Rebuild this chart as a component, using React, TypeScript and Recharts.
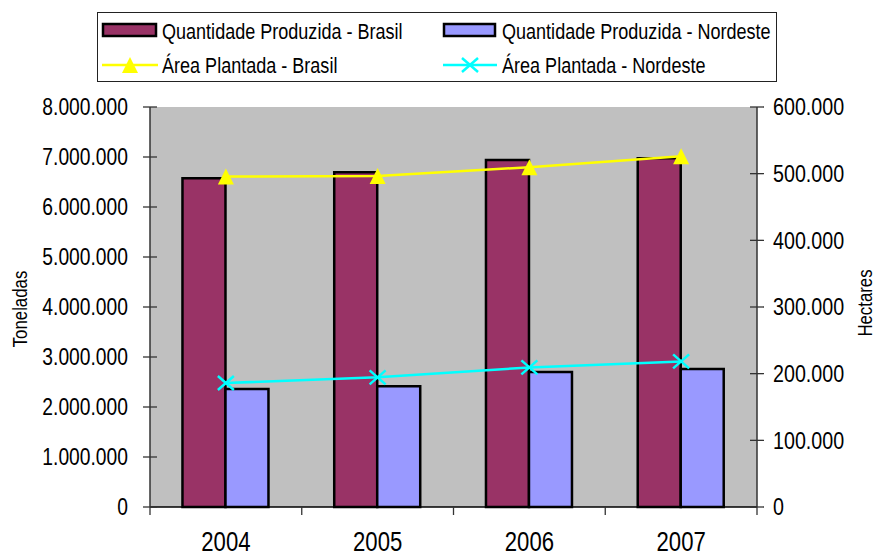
import React from 'react';
import { ComposedChart, Bar, Line, XAxis, YAxis, CartesianGrid, Label } from 'recharts';

const years = ['2004', '2005', '2006', '2007'];
const qtdBrasil = [6576000, 6696000, 6940000, 6975000];
const qtdNordeste = [2360000, 2413000, 2700000, 2760000];
const areaBrasil = [495600, 496600, 509700, 526000];
const areaNordeste = [186000, 194500, 209400, 218400];
const leftTicks = [0, 1000000, 2000000, 3000000, 4000000, 5000000, 6000000, 7000000, 8000000];
const rightTicks = [0, 100000, 200000, 300000, 400000, 500000, 600000];
const names = {
  qb: 'Quantidade Produzida - Brasil',
  qn: 'Quantidade Produzida - Nordeste',
  ab: 'Área Plantada - Brasil',
  an: 'Área Plantada - Nordeste',
};
const leftTitle = 'Toneladas';
const rightTitle = 'Hectares';

const data = years.map((y, i) => ({
  year: y,
  qb: qtdBrasil[i],
  qn: qtdNordeste[i],
  ab: areaBrasil[i],
  an: areaNordeste[i],
}));

const W = 877;
const H = 557;
const LEFT_W = 150;
const RIGHT_W = 120;
const TOP = 107;
const XAX_H = 50;
const PLOT_L = LEFT_W;
const PLOT_R = W - RIGHT_W;
const PLOT_B = H - XAX_H;
const PLOT_MID = (TOP + PLOT_B) / 2;
const HALF_BAND = (PLOT_R - PLOT_L) / years.length / 2;

const FONT = "'Liberation Sans', Arial, sans-serif";
const SQUEEZE = 0.82;
const AXIS_COLOR = '#333';

const fmt = (v: number) => String(v).replace(/\B(?=(\d{3})+(?!\d))/g, '.');

const NText = ({ x, y, size, anchor = 'start', rotate = 0, baseline = 'central', children }: any) => (
  <text
    transform={`translate(${x},${y}) rotate(${rotate}) scale(${SQUEEZE},1)`}
    x={0}
    y={0}
    textAnchor={anchor}
    dominantBaseline={baseline}
    fontSize={size}
    fill="#000"
    fontFamily={FONT}
  >
    {children}
  </text>
);

const LeftTick = (props: any) => {
  const { y, payload } = props;
  return (
    <g>
      <line x1={PLOT_L - 7} x2={PLOT_L + 7} y1={y} y2={y} stroke={AXIS_COLOR} strokeWidth={1.3} />
      <NText x={PLOT_L - 22} y={y} size={23.5} anchor="end">{fmt(payload.value)}</NText>
    </g>
  );
};

const RightTick = (props: any) => {
  const { y, payload } = props;
  return (
    <g>
      <line x1={PLOT_R - 7} x2={PLOT_R + 7} y1={y} y2={y} stroke={AXIS_COLOR} strokeWidth={1.3} />
      <NText x={PLOT_R + 16} y={y} size={24} anchor="start">{fmt(payload.value)}</NText>
    </g>
  );
};

const XTick = (props: any) => {
  const { x, payload, index } = props;
  const last = index === years.length - 1;
  return (
    <g>
      <line x1={x - HALF_BAND} x2={x - HALF_BAND} y1={PLOT_B} y2={PLOT_B + 8} stroke={AXIS_COLOR} strokeWidth={1.3} />
      {last && (
        <line x1={x + HALF_BAND} x2={x + HALF_BAND} y1={PLOT_B} y2={PLOT_B + 8} stroke={AXIS_COLOR} strokeWidth={1.3} />
      )}
      <NText x={x} y={551} size={27} anchor="middle" baseline="alphabetic">{payload.value}</NText>
    </g>
  );
};

const LeftTitle = () => <NText x={20} y={PLOT_MID + 2} size={20.5} anchor="middle" rotate={-90}>{leftTitle}</NText>;
const RightTitle = () => <NText x={865} y={PLOT_MID - 4} size={20.5} anchor="middle" rotate={-90}>{rightTitle}</NText>;

const TriangleDot = (props: any) => {
  const { cx, cy } = props;
  if (cx == null || cy == null) return null;
  return <polygon points={`${cx},${cy - 8} ${cx - 8},${cy + 8} ${cx + 8},${cy + 8}`} fill="#FFFF00" />;
};

const CrossDot = (props: any) => {
  const { cx, cy } = props;
  if (cx == null || cy == null) return null;
  return (
    <g stroke="#00FFFF" strokeWidth={2.5}>
      <line x1={cx - 8} y1={cy - 7} x2={cx + 8} y2={cy + 7} />
      <line x1={cx - 8} y1={cy + 7} x2={cx + 8} y2={cy - 7} />
    </g>
  );
};

const LegendBox = () => (
  <svg width={W} height={90} style={{ position: 'absolute', left: 0, top: 0 }}>
    <rect x={97.5} y={12.5} width={679} height={69} fill="#fff" stroke="#222" strokeWidth={1} />
    <rect x={103} y={24} width={53} height={12} fill="#993366" stroke="#000" strokeWidth={2.5} />
    <NText x={162} y={31} size={22}>{names.qb}</NText>
    <rect x={444} y={24} width={51} height={12} fill="#9999FF" stroke="#000" strokeWidth={2.5} />
    <NText x={502} y={31} size={22}>{names.qn}</NText>
    <line x1={102} x2={158} y1={65} y2={65} stroke="#FFFF00" strokeWidth={2.5} />
    <polygon points={`130,57 122,73 138,73`} fill="#FFFF00" />
    <NText x={162} y={65} size={22}>{names.ab}</NText>
    <line x1={443} x2={497} y1={65} y2={65} stroke="#00FFFF" strokeWidth={2.5} />
    <g stroke="#00FFFF" strokeWidth={2.5}>
      <line x1={462} y1={58} x2={478} y2={72} />
      <line x1={462} y1={72} x2={478} y2={58} />
    </g>
    <NText x={502} y={65} size={22}>{names.an}</NText>
  </svg>
);

export default function App() {
  return (
    <div style={{ position: 'absolute', left: 0, top: 0, width: W, height: H, background: '#fff', fontFamily: FONT }}>
      <ComposedChart
        width={W}
        height={H}
        data={data}
        margin={{ top: TOP, right: 0, left: 0, bottom: 0 }}
        barCategoryGap="21.4%"
        barGap={0}
      >
        <CartesianGrid horizontal={false} vertical={false} fill="#C0C0C0" stroke="none" />
        <XAxis
          dataKey="year"
          height={XAX_H}
          tickLine={false}
          axisLine={{ stroke: '#000', strokeWidth: 1.5 }}
          tick={<XTick />}
          interval={0}
        />
        <YAxis
          yAxisId="left"
          orientation="left"
          width={LEFT_W}
          domain={[0, 8000000]}
          ticks={leftTicks}
          interval={0}
          tickLine={false}
          axisLine={{ stroke: AXIS_COLOR, strokeWidth: 1.5 }}
          tick={<LeftTick />}
        >
          <Label content={<LeftTitle />} />
        </YAxis>
        <YAxis
          yAxisId="right"
          orientation="right"
          width={RIGHT_W}
          domain={[0, 600000]}
          ticks={rightTicks}
          interval={0}
          tickLine={false}
          axisLine={{ stroke: AXIS_COLOR, strokeWidth: 1.5 }}
          tick={<RightTick />}
        >
          <Label content={<RightTitle />} />
        </YAxis>
        <Bar yAxisId="left" dataKey="qb" name={names.qb} fill="#993366" stroke="#000" strokeWidth={2.5} isAnimationActive={false} />
        <Bar yAxisId="left" dataKey="qn" name={names.qn} fill="#9999FF" stroke="#000" strokeWidth={2.5} isAnimationActive={false} />
        <Line yAxisId="right" type="linear" dataKey="ab" name={names.ab} stroke="#FFFF00" strokeWidth={2.5} dot={<TriangleDot />} activeDot={false} isAnimationActive={false} />
        <Line yAxisId="right" type="linear" dataKey="an" name={names.an} stroke="#00FFFF" strokeWidth={2.5} dot={<CrossDot />} activeDot={false} isAnimationActive={false} />
      </ComposedChart>
      <LegendBox />
    </div>
  );
}
